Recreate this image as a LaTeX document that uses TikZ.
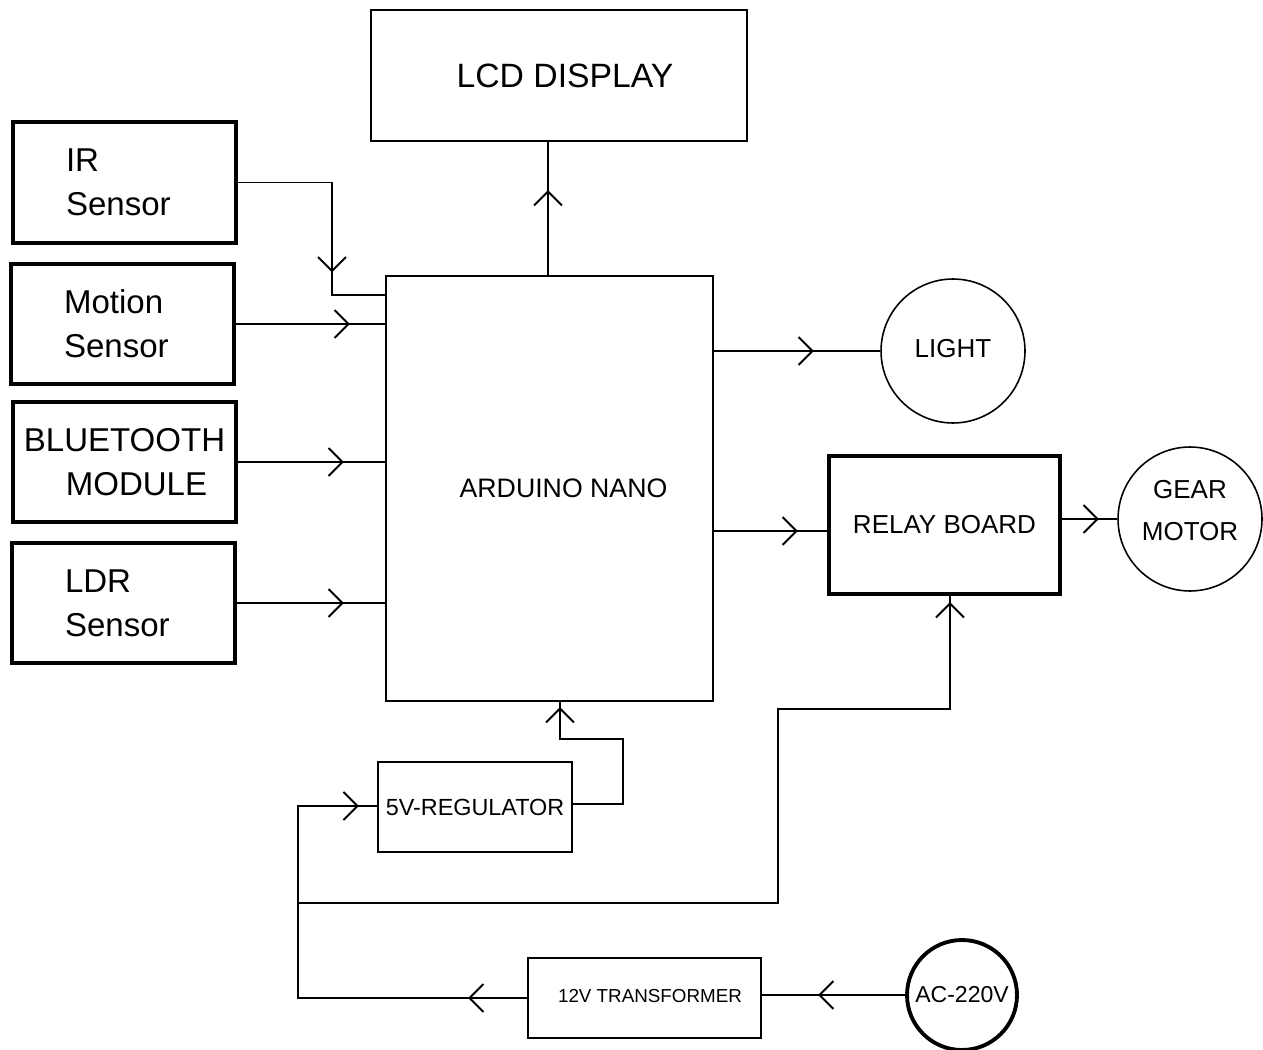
\documentclass[tikz,border=0pt]{standalone}
\usepackage{fontspec}
\setmainfont{Liberation Sans}
\usetikzlibrary{arrows.meta,decorations.markings}
\begin{document}
\begin{tikzpicture}[x=0.02cm,y=-0.02cm,
 thinbox/.style={draw, line width=1.1pt, rectangle, inner sep=0pt},
 thickbox/.style={draw, line width=2.2pt, rectangle, inner sep=0pt},
 conn/.style={draw, line width=1.1pt},
 arrowat/.style={postaction={decorate, decoration={markings, mark=at position #1 with {\arrow{Straight Barb[length=2.8mm,width=5.6mm]}}}}},
 bigtxt/.style={font=\fontsize{18.8pt}{25pt}\selectfont},
 midtxt/.style={font=\fontsize{14.8pt}{24pt}\selectfont},
 sidebox/.style={thickbox, bigtxt, align=left, text width=2.34cm, inner xsep=1.06cm, minimum height=2.42cm},
]
\useasboundingbox (0,0) rectangle (1263,1050);

\node[thinbox, minimum width=7.52cm, minimum height=2.62cm, font=\fontsize{19.2pt}{25pt}\selectfont] (lcd) at (559,75.5) {\hspace*{0.24cm}\raisebox{-0.04cm}{LCD DISPLAY}};

\node[sidebox] (ir) at (124.5,182.5) {IR\\Sensor};
\node[sidebox, minimum height=2.4cm] (mot) at (122.5,324) {Motion\\Sensor};
\node[thickbox, bigtxt, align=center, minimum width=4.46cm, minimum height=2.4cm] (bt) at (124.5,462) {BLUETOOTH\\\hspace*{0.48cm}MODULE};
\node[sidebox, minimum height=2.4cm] (ldr) at (123.5,603) {LDR\\Sensor};

\node[thinbox, minimum width=6.54cm, minimum height=8.5cm, font=\fontsize{15.2pt}{24pt}\selectfont] (ard) at (549.5,488.5) {\hspace*{0.56cm}\raisebox{-0.04cm}{ARDUINO NANO}};

\node[draw, circle, line width=0.9pt, minimum size=2.88cm, inner sep=0pt, midtxt] (light) at (953,351) {\raisebox{0.1cm}{LIGHT}};
\node[thickbox, minimum width=4.62cm, minimum height=2.76cm, midtxt] (relay) at (944.5,525) {RELAY BOARD};
\node[draw, circle, line width=0.9pt, minimum size=2.88cm, inner sep=0pt, align=center, text depth=0.36cm, font=\fontsize{14.8pt}{23.9pt}\selectfont] (gear) at (1190,519) {GEAR\\MOTOR};

\node[thinbox, minimum width=3.88cm, minimum height=1.8cm, font=\fontsize{13.3pt}{16pt}\selectfont] (reg) at (475,807) {5V-REGULATOR};
\node[thinbox, minimum width=4.66cm, minimum height=1.6cm, font=\fontsize{10.7pt}{13pt}\selectfont] (trans) at (644.5,998) {\hspace*{0.22cm}\raisebox{0.09cm}{12V TRANSFORMER}};
\node[draw, circle, line width=2.2pt, minimum size=2.2cm, inner sep=0pt, font=\fontsize{13.1pt}{16pt}\selectfont] (ac) at (962,995) {AC-220V};

% inputs
\draw[conn, arrowat=3.68cm] (ir.east) -| (332,295) -- (ard.west |- 332,295);
\draw[conn, arrowat=2.28cm] (mot.east) -- (ard.west |- mot.east);
\draw[conn, arrowat=2.12cm] (bt.east) -- (ard.west |- bt.east);
\draw[conn, arrowat=2.14cm] (ldr.east) -- (ard.west |- ldr.east);

% outputs
\draw[conn, arrowat=1.7cm] (ard.north -| 548,0) -- (lcd.south -| 548,0);
\draw[conn, arrowat=2.0cm] (ard.east |- light.west) -- (light.west);
\draw[conn, arrowat=1.68cm] (ard.east |- 0,531) -- (relay.west |- 0,531);
\draw[conn, arrowat=0.74cm] (relay.east |- gear.west) -- (gear.west);

% power
\draw[conn, arrowat=4.2cm] (reg.east |- 0,804) -| (623,739) -| (ard.south -| 560,0);
\draw[conn, arrowat=1.18cm, arrowat=9.64cm] (trans.west) -| (298,806) -- (reg.west |- 0,806);
\coordinate (br) at (298,903);
\draw[conn, arrowat=19.06cm] (br) -| (778,709) -| (relay.south -| 950,0);
\draw[conn, arrowat=1.74cm] (ac.west) -- (trans.east |- ac.west);
\end{tikzpicture}
\end{document}
